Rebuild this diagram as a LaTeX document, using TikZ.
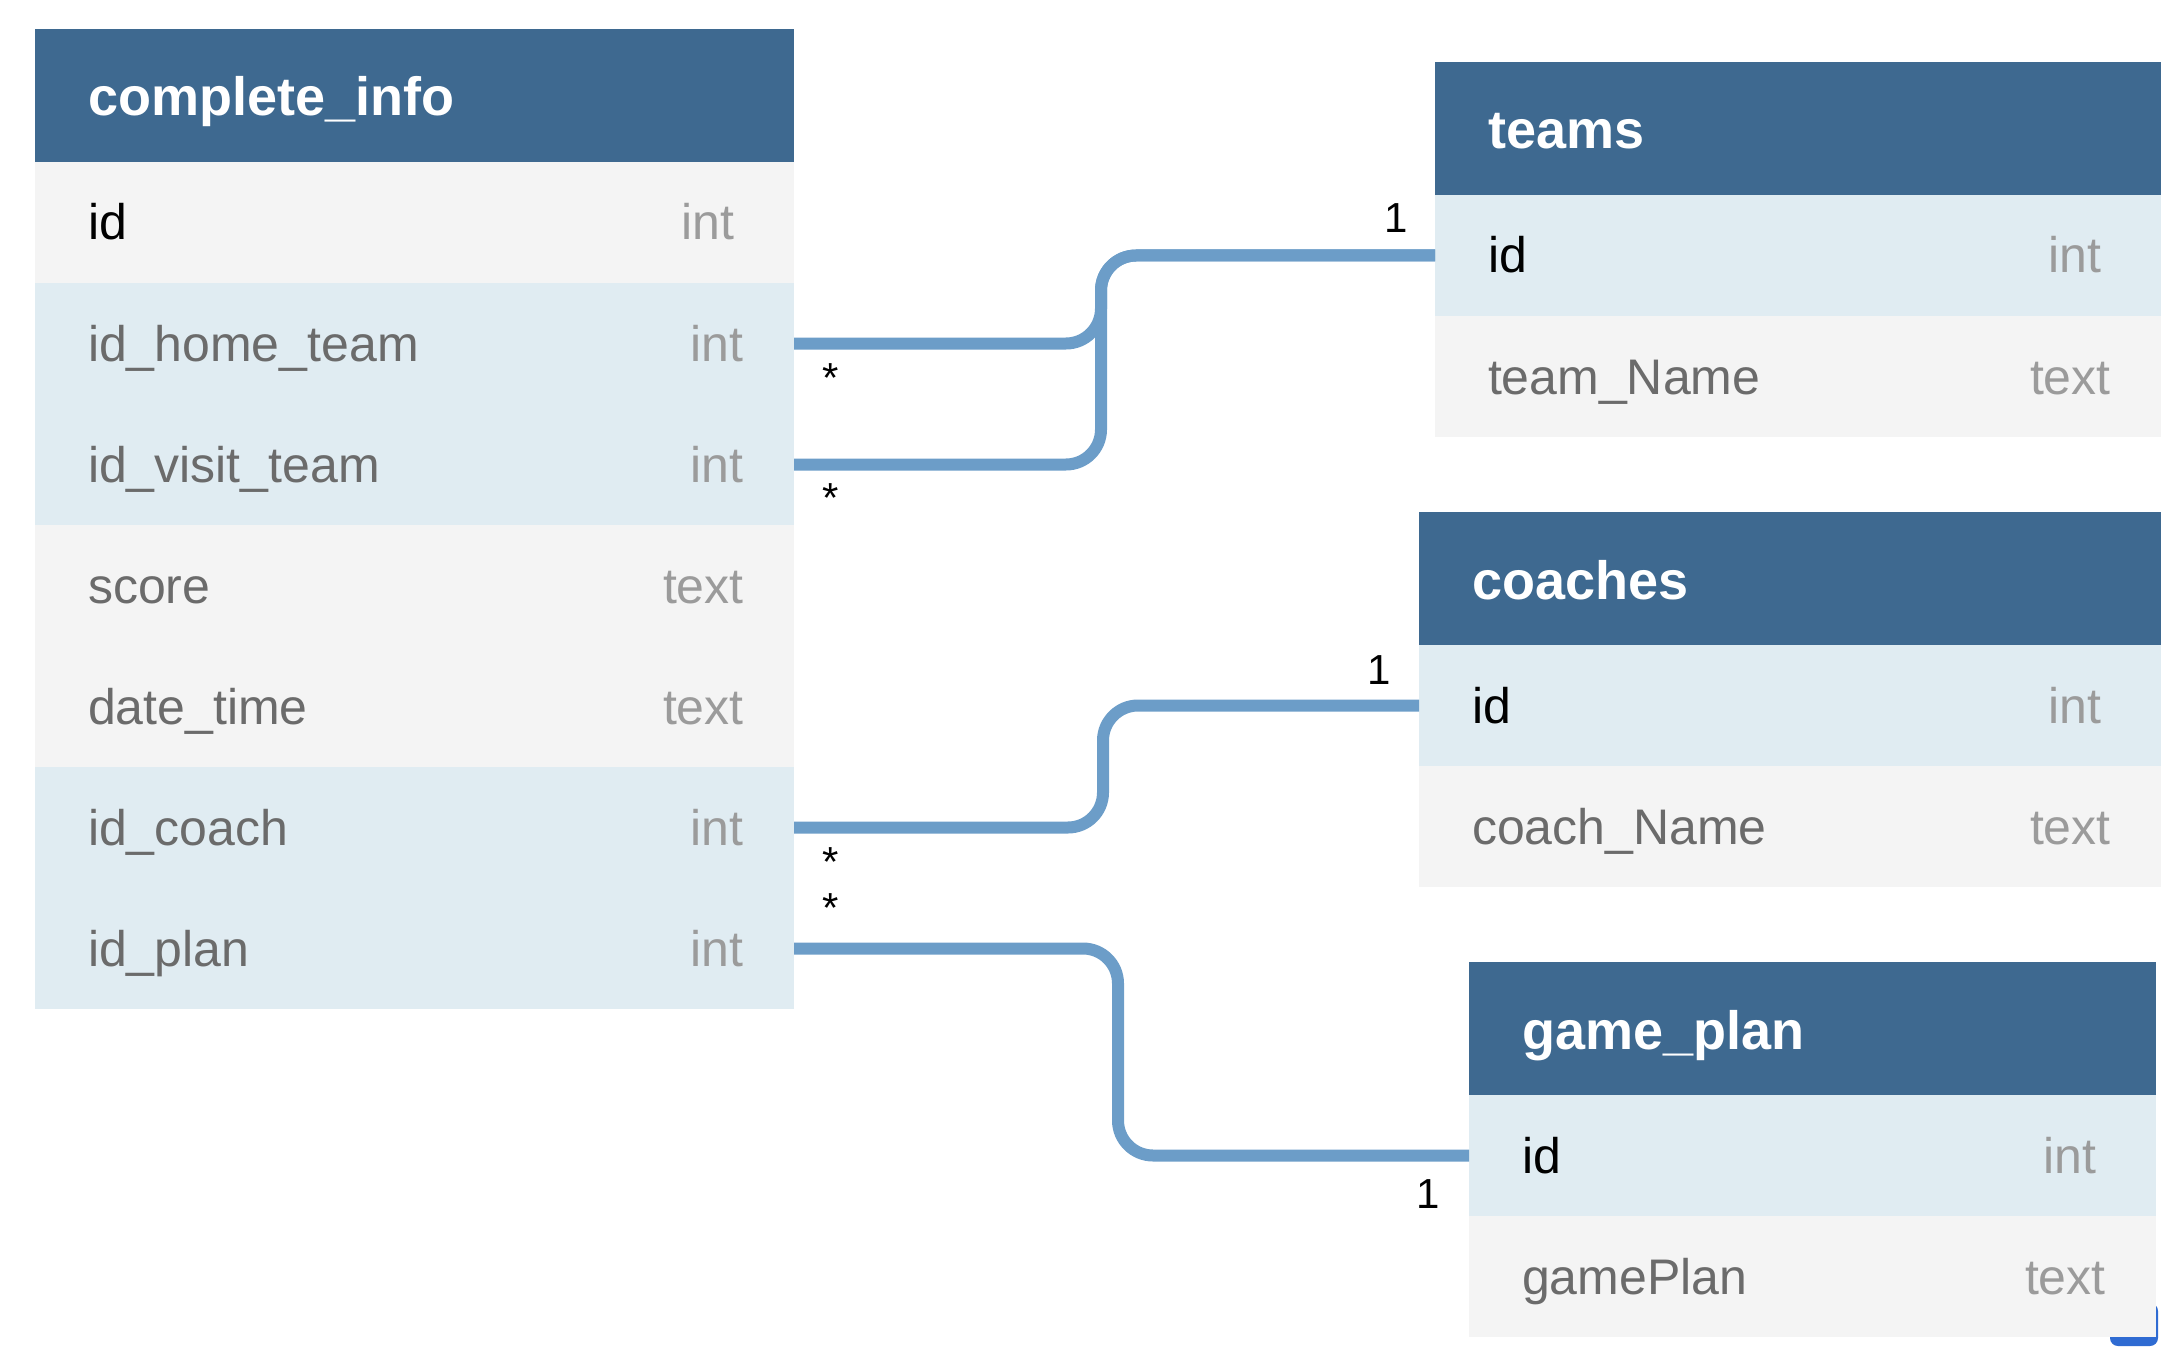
\documentclass[tikz,border=0pt]{standalone}
\usepackage{fontspec}
\setmainfont{Liberation Sans}
\usepackage{xcolor}
\usetikzlibrary{positioning}

\definecolor{headblue}{HTML}{3E6990}
\definecolor{keyblue}{HTML}{E0ECF2}
\definecolor{rowgray}{HTML}{F4F4F4}
\definecolor{fieldgray}{HTML}{6B6B6B}
\definecolor{typegray}{HTML}{9B9B9B}
\definecolor{relblue}{HTML}{6C9DC8}
\definecolor{iconblue}{HTML}{2F6BD2}

\begin{document}
\begin{tikzpicture}[
  x=0.5pt, y=-0.5pt,
  head/.style={rectangle, fill=headblue, text=white, minimum height=66.5pt,
    inner xsep=26.5pt, inner ysep=0pt, outer sep=0pt, text height=20.5pt, text depth=0pt,
    align=left, font=\bfseries\fontsize{27}{32}\selectfont},
  rowbox/.style={rectangle, minimum height=60.5pt, inner xsep=26.5pt, inner ysep=0pt,
    outer sep=0pt, text height=17.5pt, text depth=0pt, align=left, text=fieldgray,
    font=\fontsize{25}{30}\selectfont},
  keyrow/.style={rowbox, fill=keyblue},
  plainrow/.style={rowbox, fill=rowgray},
  typ/.style={anchor=east, xshift=-25pt, inner sep=0pt, text=typegray,
    text height=17.5pt, text depth=0pt, font=\fontsize{25}{30}\selectfont},
  pktyp/.style={typ, xshift=-4.5pt},
  cicol/.style={text width=326.5pt},
  tmcol/.style={text width=310pt},
  cocol/.style={text width=318pt},
  gpcol/.style={text width=290.5pt},
  rel/.style={draw=relblue, line width=6pt, rounded corners=17.5pt},
  mult/.style={inner sep=0pt, anchor=base, font=\fontsize{21}{25}\selectfont}
]
\useasboundingbox (0,0) rectangle (2168,1348);

% small badge behind game_plan
\fill[iconblue, rounded corners=4pt] (2110,1303) rectangle (2158,1346);

% complete_info
\node[head, cicol, anchor=north west] (ci) at (35,29) {complete\_info};
\node[plainrow, cicol, text=black, below=0pt of ci, label={[pktyp]east:int}] (ci-id) {id};
\node[keyrow, cicol, below=0pt of ci-id, label={[typ]east:int}] (ci-home) {id\_home\_team};
\node[keyrow, cicol, below=0pt of ci-home, label={[typ]east:int}] (ci-visit) {id\_visit\_team};
\node[plainrow, cicol, below=0pt of ci-visit, label={[typ]east:text}] (ci-score) {score};
\node[plainrow, cicol, below=0pt of ci-score, label={[typ]east:text}] (ci-date) {date\_time};
\node[keyrow, cicol, below=0pt of ci-date, label={[typ]east:int}] (ci-coach) {id\_coach};
\node[keyrow, cicol, below=0pt of ci-coach, label={[typ]east:int}] (ci-plan) {id\_plan};

% teams
\node[head, tmcol, anchor=north west] (tm) at (1435,62) {teams};
\node[keyrow, tmcol, text=black, below=0pt of tm, label={[pktyp]east:int}] (tm-id) {id};
\node[plainrow, tmcol, below=0pt of tm-id, label={[typ]east:text}] (tm-name) {team\_Name};

% coaches
\node[head, cocol, anchor=north west] (co) at (1419,512) {coaches};
\node[keyrow, cocol, text=black, below=0pt of co, label={[pktyp]east:int}] (co-id) {id};
\node[plainrow, cocol, below=0pt of co-id, label={[typ]east:text}] (co-name) {coach\_Name};

% game_plan
\node[head, gpcol, anchor=north west] (gp) at (1469,962) {game\_plan};
\node[keyrow, gpcol, text=black, below=0pt of gp, label={[pktyp]east:int}] (gp-id) {id};
\node[plainrow, gpcol, below=0pt of gp-id, label={[typ]east:text}] (gp-plan) {gamePlan};

% relations
\draw[rel] (ci-home.east) -- ++(307,0) |- (tm-id.west);
\draw[rel] (ci-visit.east) -- ++(307,0) |- (tm-id.west);
\draw[rel] (ci-coach.east) -- ++(309,0) |- (co-id.west);
\draw[rel] (ci-plan.east) -- ++(324,0) |- (gp-id.west);

% multiplicities
\node[mult] (m-home) at (831,392) {*};
\node[mult] (m-visit) at (831,512) {*};
\node[mult] (m-coach) at (831,876) {*};
\node[mult] (m-plan) at (831,922) {*};
\node[mult] (m-tm) at (1396,233) {1};
\node[mult] (m-co) at (1379,684) {1};
\node[mult] (m-gp) at (1428,1208) {1};

\end{tikzpicture}
\end{document}
